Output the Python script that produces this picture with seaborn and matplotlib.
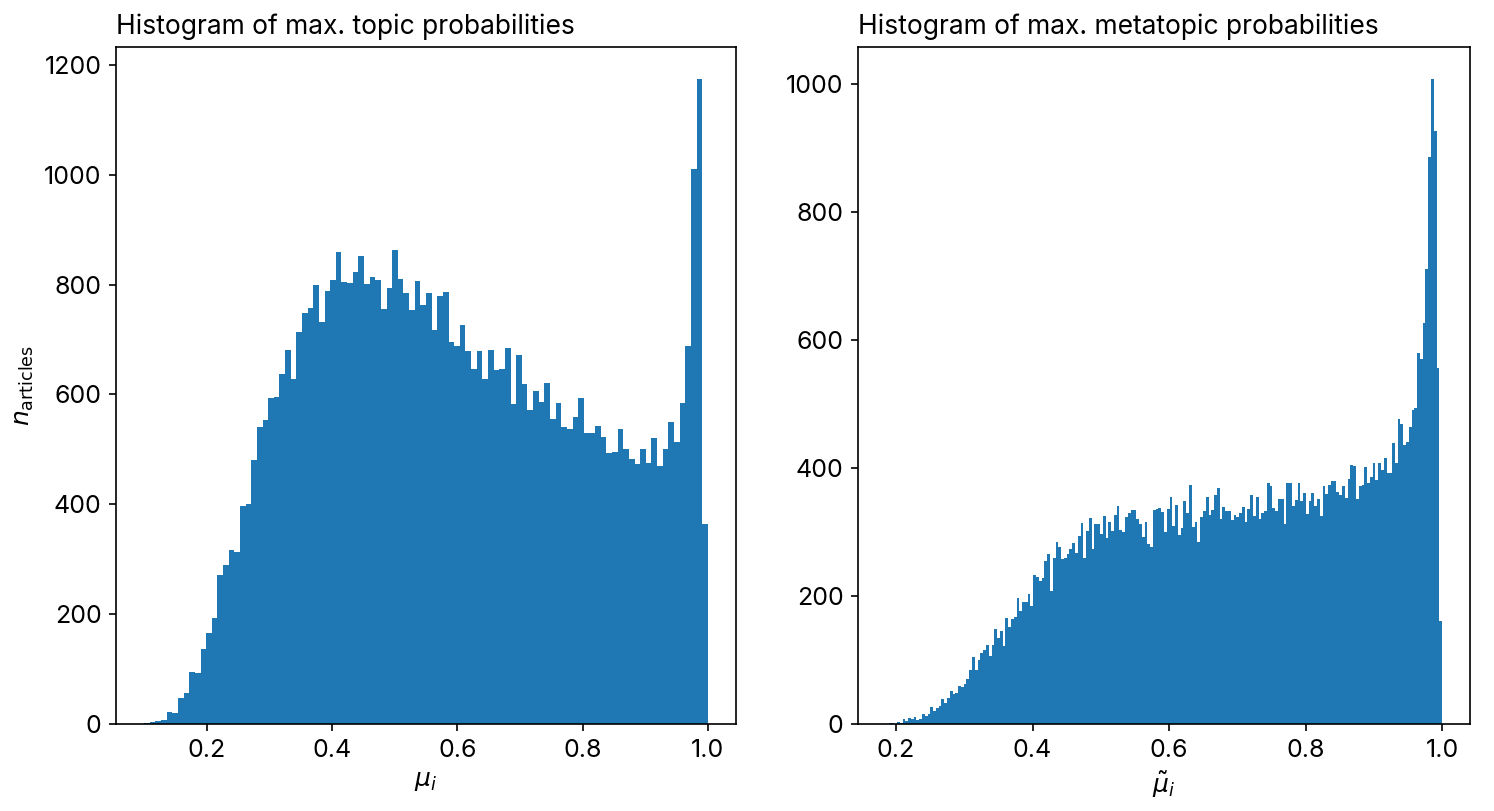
import numpy as np
import matplotlib
matplotlib.use("Agg")
import matplotlib.pyplot as plt
from matplotlib.ticker import MultipleLocator
import seaborn as sns

# -------------------- #
# Data (bin counts)
# -------------------- #
topic_range = (0.1, 1.0)
topic_counts = [
    2, 4, 5, 8, 22, 20, 47, 56, 95, 93,
    137, 166, 193, 271, 290, 317, 313, 397, 400, 480,
    540, 553, 593, 596, 637, 681, 628, 713, 749, 758,
    799, 732, 788, 808, 859, 805, 803, 823, 852, 802,
    813, 808, 755, 794, 863, 811, 784, 753, 807, 763,
    785, 718, 779, 787, 695, 689, 727, 680, 646, 680,
    629, 681, 644, 647, 685, 583, 671, 619, 571, 606,
    587, 621, 556, 584, 540, 537, 559, 594, 530, 530,
    542, 522, 493, 496, 538, 500, 483, 474, 500, 476,
    520, 469, 500, 550, 513, 585, 689, 1010, 1174, 365,
]

meta_range = (0.185, 1.0)
meta_counts = [
    0, 2, 2, 0, 3, 1, 8, 4, 10, 8, 11, 6, 8, 15, 12, 15, 27, 21, 25, 28,
    39, 33, 40, 52, 47, 49, 59, 58, 63, 70, 84, 105, 85, 100, 111, 116, 123, 106, 124, 149,
    135, 146, 122, 165, 151, 164, 167, 197, 177, 190, 190, 203,
    184, 232, 230, 224, 228, 254, 265, 207, 260, 285, 277, 258, 259, 265, 273, 283, 267, 293,
    314, 260, 302, 321, 274, 313, 313, 296, 325, 291, 316, 301, 327, 340, 303, 300, 324, 329,
    335, 335, 320, 313, 292, 315, 281, 277, 334, 336, 337, 331, 300, 336,
    355, 310, 342, 295, 306, 348, 329, 374, 307, 315, 284, 323, 332, 354, 326, 334, 358, 369,
    320, 339, 333, 333, 319, 326, 323, 329, 339, 315, 336, 358, 325, 355, 320, 329, 332, 376,
    371, 337, 332, 352, 351, 313, 376, 377, 340, 350, 376, 349,
    361, 328, 348, 360, 341, 351, 325, 371, 359, 373, 379, 379, 362, 357, 371, 353, 383, 405,
    403, 352, 371, 374, 402, 377, 385, 408, 381, 407, 397, 415, 392, 392, 439, 408, 477, 469,
    435, 440, 464, 491, 493, 580, 570, 626, 711, 885, 1007, 926, 556, 161,
]

plt.rcParams['font.family'] = ['Inter', 'DejaVu Sans']
plt.rcParams['font.size'] = 12


def bin_centers(rng, n):
    edges = np.linspace(rng[0], rng[1], n + 1)
    return (edges[:-1] + edges[1:]) / 2


W, H = 1494, 811
fig, axes = plt.subplots(1, 2, figsize=(W / 150, H / 150), dpi=150)
axes[0].set_position([116 / W, 1 - 724 / H, 620 / W, 677 / H])
axes[1].set_position([858 / W, 1 - 724 / H, 612 / W, 677 / H])

# -------------------- #
# 1. Max topic probabilities
# -------------------- #
ax = axes[0]
sns.histplot(x=bin_centers(topic_range, len(topic_counts)), weights=topic_counts,
             bins=len(topic_counts), binrange=topic_range, ax=ax,
             color="#1f77b4", alpha=1, linewidth=0)
ax.set_title("Histogram of max. topic probabilities", loc="left", fontsize=12.7)
ax.set_xlabel(r"$\mu_i$")
ax.set_ylabel(r"$n_\mathrm{articles}$")
ax.xaxis.set_major_locator(MultipleLocator(0.2))

# -------------------- #
# 2. Max metatopic probabilities
# -------------------- #
ax = axes[1]
sns.histplot(x=bin_centers(meta_range, len(meta_counts)), weights=meta_counts,
             bins=len(meta_counts), binrange=meta_range, ax=ax,
             color="#1f77b4", alpha=1, linewidth=0)
ax.set_title("Histogram of max. metatopic probabilities", loc="left", fontsize=12.7)
ax.set_xlabel(r"$\tilde{\mu}_i$")
ax.set_ylabel("")
ax.xaxis.set_major_locator(MultipleLocator(0.2))

fig.savefig("out.png", dpi=150)
